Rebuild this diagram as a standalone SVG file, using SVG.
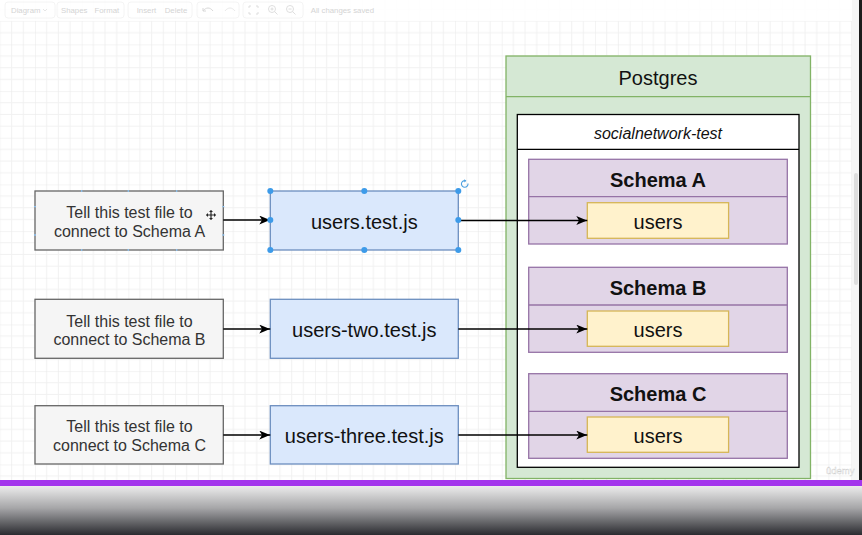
<svg xmlns="http://www.w3.org/2000/svg" width="862" height="535" viewBox="0 0 862 535">
<defs>
<pattern id="grid" patternUnits="userSpaceOnUse" x="35" y="44.4" width="46.67" height="46.67">
<path d="M11.67 0V46.67M23.33 0V46.67M35 0V46.67M0 11.67H46.67M0 23.33H46.67M0 35H46.67" stroke="#f1f1f1" stroke-width="1" fill="none"/>
<path d="M0 0V46.67M0 0H46.67" stroke="#e9e9e9" stroke-width="1" fill="none"/>
</pattern>
<linearGradient id="bottom" x1="0" y1="0" x2="0" y2="1">
<stop offset="0" stop-color="#ececec"/>
<stop offset="0.45" stop-color="#a6a6a8"/>
<stop offset="1" stop-color="#2a2b30"/>
</linearGradient>
<marker id="arr" viewBox="0 0 10 8" refX="10" refY="4" markerWidth="11" markerHeight="9" markerUnits="userSpaceOnUse" orient="auto">
<path d="M0,0 L10,4 L0,8 L2.5,4 Z" fill="#000"/>
</marker>
<style>
.note rect{fill:#f5f5f5;stroke:#666666;stroke-width:1.3}
.file rect{fill:#dae8fc;stroke:#6c8ebf;stroke-width:1.3}
.t{font-family:"Liberation Sans",Arial,sans-serif;fill:#111;text-anchor:middle}
.note .t{fill:#333}
.s16{font-size:16px}
.s20{font-size:20px}
.b{font-weight:bold}
.it{font-style:italic}
.schema rect.box{fill:#e1d5e7;stroke:#9673a6;stroke-width:1.3}
.schema line{stroke:#9673a6;stroke-width:1.3}
.tbl rect{fill:#fff2cc;stroke:#d6b656;stroke-width:1.3}
.conn line{stroke:#000;stroke-width:1.3;marker-end:url(#arr)}
.tb{font-family:"Liberation Sans",Arial,sans-serif;font-size:7.8px;fill:#d4d4d4}
.tbbox{fill:none;stroke:#f1f1f1;stroke-width:0.8}
.h{fill:#3d9be9}
</style>
</defs>
<rect x="0" y="0" width="862" height="535" fill="#ffffff"/>
<rect x="0" y="0" width="852" height="480" fill="url(#grid)"/>
<!-- toolbar -->
<g id="toolbar">
<rect x="0" y="0" width="852" height="21" fill="#ffffff" opacity="0.85"/>
<rect class="tbbox" x="5" y="2" width="50" height="16" rx="3"/>
<rect class="tbbox" x="57" y="2" width="67" height="16" rx="3"/>
<rect class="tbbox" x="128" y="2" width="64" height="16" rx="3"/>
<rect class="tbbox" x="197" y="2" width="42" height="16" rx="3"/>
<rect class="tbbox" x="243" y="2" width="60" height="16" rx="3"/>
<text class="tb" x="11" y="13">Diagram</text>
<path d="M43 9l2 2 2-2" stroke="#e0e0e0" fill="none" stroke-width="0.8"/>
<text class="tb" x="61" y="13">Shapes</text>
<text class="tb" x="94.5" y="13">Format</text>
<text class="tb" x="136.7" y="13">Insert</text>
<text class="tb" x="164.7" y="13">Delete</text>
<path d="M203 11c3-4 7-4 10 0M203 8v3h3" stroke="#d8d8d8" fill="none" stroke-width="1"/>
<path d="M235 11c-3-4-7-4-10 0" stroke="#e9e9e9" fill="none" stroke-width="1"/>
<path d="M249 8v-2h2M256 6h2v2M258 12v2h-2M251 14h-2v-2" stroke="#dadada" fill="none" stroke-width="0.9"/>
<circle cx="272" cy="9" r="3.5" stroke="#dadada" fill="none" stroke-width="0.9"/>
<path d="M274.5 11.5l3 3M270.5 9h3M272 7.5v3" stroke="#dadada" stroke-width="0.9"/>
<circle cx="290" cy="9" r="3.5" stroke="#dadada" fill="none" stroke-width="0.9"/>
<path d="M292.5 11.5l3 3M288.5 9h3" stroke="#dadada" stroke-width="0.9"/>
<text class="tb" x="310.7" y="13">All changes saved</text>
</g>
<!-- right scroll area -->
<rect x="852" y="0" width="7" height="480" fill="#f6f6f6"/>
<rect x="854" y="173" width="4" height="112" rx="2" fill="#dddddd"/>
<rect x="859" y="0" width="3" height="480" fill="#1c1c1c"/>

<!-- Postgres container -->
<g id="postgres">
<rect x="506" y="56" width="304.5" height="422.5" fill="#d5e8d4" stroke="#82b366" stroke-width="1.3"/>
<line x1="506" y1="96.7" x2="810.5" y2="96.7" stroke="#82b366" stroke-width="1.3"/>
<text class="t s20" x="658" y="85">Postgres</text>
</g>
<g id="socialnetwork-test">
<rect x="517.3" y="114.5" width="281.7" height="352.8" fill="#ffffff" stroke="#000" stroke-width="1.3"/>
<line x1="517.3" y1="149.3" x2="799" y2="149.3" stroke="#000" stroke-width="1.3"/>
<text class="t s16 it" x="658" y="139">socialnetwork-test</text>
</g>
<g id="schema-a" class="schema">
<rect class="box" x="528.7" y="159.3" width="258.6" height="84.7"/>
<line x1="528.7" y1="196.7" x2="787.3" y2="196.7"/>
<text class="t s20 b" x="658" y="187">Schema A</text>
</g>
<g id="users-a" class="tbl">
<rect x="587.3" y="202.7" width="141.3" height="35.6"/>
<text class="t s20" x="658" y="228.5">users</text>
</g>
<g id="schema-b" class="schema">
<rect class="box" x="528.7" y="267.3" width="258.6" height="85"/>
<line x1="528.7" y1="305" x2="787.3" y2="305"/>
<text class="t s20 b" x="658" y="294.5">Schema B</text>
</g>
<g id="users-b" class="tbl">
<rect x="587.3" y="311" width="141.3" height="35.3"/>
<text class="t s20" x="658" y="337.3">users</text>
</g>
<g id="schema-c" class="schema">
<rect class="box" x="528.7" y="373.7" width="258.6" height="84.6"/>
<line x1="528.7" y1="411.3" x2="787.3" y2="411.3"/>
<text class="t s20 b" x="658" y="400.5">Schema C</text>
</g>
<g id="users-c" class="tbl">
<rect x="587.3" y="417" width="141.3" height="35.3"/>
<text class="t s20" x="658" y="442.7">users</text>
</g>

<!-- left notes -->
<g id="note-a" class="note">
<rect x="35" y="191" width="188.3" height="59"/>
<text class="t s16" x="129.5" y="218.3">Tell this test file to</text>
<text class="t s16" x="129.5" y="237.3">connect to Schema A</text>
<g stroke="#8cc0ee" stroke-width="1.3">
<path d="M81.7 190v2M128.3 190v2M176.7 190v2M81.7 249v2M128.3 249v2M176.7 249v2M34 206.7h2M34 235h2M222.3 206.7h2M222.3 235h2"/>
</g>
</g>
<g id="note-b" class="note">
<rect x="35" y="299.3" width="188.3" height="59"/>
<text class="t s16" x="129.5" y="326.7">Tell this test file to</text>
<text class="t s16" x="129.5" y="345.3">connect to Schema B</text>
</g>
<g id="note-c" class="note">
<rect x="35" y="405.7" width="188.3" height="58.3"/>
<text class="t s16" x="129.5" y="432.3">Tell this test file to</text>
<text class="t s16" x="129.5" y="451">connect to Schema C</text>
</g>

<!-- test files -->
<g id="file-a" class="file">
<rect x="270.3" y="191" width="188" height="59"/>
<text class="t s20" x="364.3" y="229">users.test.js</text>
</g>
<g id="file-b" class="file">
<rect x="270.3" y="299.3" width="188" height="59"/>
<text class="t s20" x="364.3" y="337.3">users-two.test.js</text>
</g>
<g id="file-c" class="file">
<rect x="270.3" y="405.7" width="188" height="58.3"/>
<text class="t s20" x="364.3" y="442.7">users-three.test.js</text>
</g>

<!-- connectors -->
<g id="connectors" class="conn">
<line x1="223.3" y1="220" x2="270.3" y2="220"/>
<line x1="223.3" y1="329" x2="270.3" y2="329"/>
<line x1="223.3" y1="435" x2="270.3" y2="435"/>
<line x1="458.3" y1="220.5" x2="587.3" y2="220.5"/>
<line x1="458.3" y1="329" x2="587.3" y2="329"/>
<line x1="458.3" y1="435" x2="587.3" y2="435"/>
</g>

<!-- selection handles -->
<g id="selection">
<circle class="h" cx="270.3" cy="191" r="3"/>
<circle class="h" cx="364.3" cy="191" r="3"/>
<circle class="h" cx="458.3" cy="191" r="3"/>
<circle class="h" cx="270.3" cy="220" r="3"/>
<circle class="h" cx="458.3" cy="220" r="3"/>
<circle class="h" cx="270.3" cy="250" r="3"/>
<circle class="h" cx="364.3" cy="250" r="3"/>
<circle class="h" cx="458.3" cy="250" r="3"/>
<path d="M468 183.5a3.3 3.3 0 1 1 -2.5 -2.8" stroke="#4a9fe0" stroke-width="1.1" fill="none"/>
<path d="M464.2 179.2l2.2 1.6-2 1.8z" fill="#4a9fe0"/>
</g>
<!-- cursor -->
<g id="cursor" stroke="#fff" stroke-width="2.2" stroke-linecap="round">
<path d="M207 215h8M211 211v8"/>
<path d="M207 215h8M211 211v8" stroke="#222" stroke-width="1.2"/>
<path d="M206 215l2-2v4zM216 215l-2-2v4zM211 210l-2 2h4zM211 220l-2-2h4z" fill="#222" stroke="none"/>
</g>

<!-- watermark -->
<text x="826" y="473.5" font-family="'Liberation Sans',Arial,sans-serif" font-size="9.5" fill="#ffffff" stroke="#d0d0d0" stroke-width="0.4">ûdemy</text>

<!-- bottom bar -->
<rect x="0" y="480" width="862" height="6" fill="#a336ec"/>
<rect x="0" y="486" width="862" height="49" fill="url(#bottom)"/>
</svg>
